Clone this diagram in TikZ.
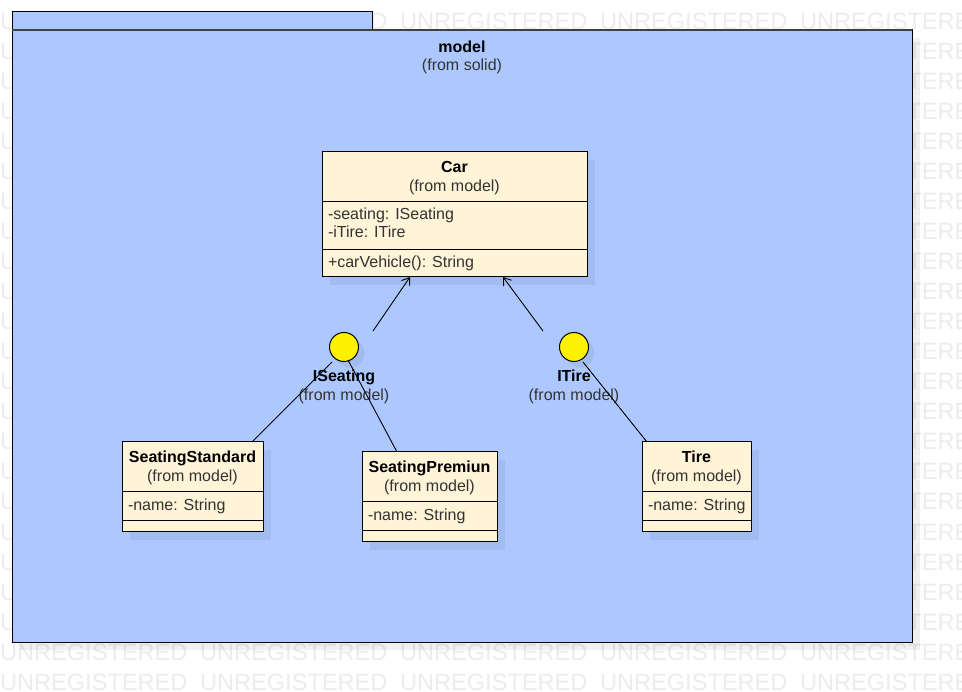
\documentclass[tikz,border=0pt]{standalone}
\usepackage{fontspec}
\setmainfont{Liberation Sans}
\usetikzlibrary{arrows.meta}
\definecolor{pkgblue}{RGB}{173,200,255}
\definecolor{classfill}{RGB}{255,243,216}
\definecolor{wmgray}{RGB}{236,236,236}
\definecolor{txtgray}{RGB}{51,51,51}
\begin{document}
\begin{tikzpicture}[x=1pt,y=-1pt,
  every node/.style={inner sep=0pt, outer sep=0pt},
  txt/.style={font=\fontsize{16}{19}\selectfont, text=txtgray, anchor=base},
  ttl/.style={font=\fontsize{16}{19}\selectfont\bfseries, text=black, anchor=base},
  attr/.style={txt, anchor=base west},
  wm/.style={font=\fontsize{23.6}{28}\selectfont, text=wmgray, anchor=base west},
  classbox/.style={draw=black, line width=1pt, fill=classfill},
  shade/.style={fill=black, fill opacity=0.06, draw=none},
  sep/.style={draw=black, line width=1pt},
  link/.style={draw=black, line width=0.9pt},
  realize/.style={link, -{Straight Barb[length=7pt,width=10pt]}},
  iface/.style={circle, draw=black, line width=1pt, fill=yellow, minimum size=29pt}
]
\useasboundingbox (0,0) rectangle (962,692);
\fill[white] (0,0) rectangle (962,692);
% watermark (only the parts not hidden by the package)
\begin{scope}
\clip (0,0) rectangle (962,692);
\foreach \c in {0,...,4}{
  \node[wm] (wm-top-\c) at (200*\c, 30) {UNREGISTERED};
}
\foreach \r in {1,...,20}{
  \node[wm] (wm-\r-l) at (0, 30+30*\r) {U};
  \node[wm] (wm-\r-r) at (907.5, 30+30*\r) {TERED};
}
\foreach \r in {21,22}{
  \foreach \c in {0,...,4}{
    \node[wm] (wm-\r-\c) at (200*\c, 30+30*\r) {UNREGISTERED};
  }
}
\end{scope}
% package
\fill[shade] (20,38) rectangle (920,650);
\draw[line width=1pt, fill=pkgblue] (12,12) rectangle (372,30);
\draw[line width=1pt, fill=pkgblue] (12,30) rectangle (912,642);
\draw[line width=1.4pt, draw=black!75] (12,30) -- (912,30);
\node[ttl] (pkgname) at (462,53) {model};
\node[txt] (pkgfrom) at (462,71) {(from solid)};

% Car
\fill[shade] (330,160) rectangle (595,285);
\node[classbox, minimum width=265pt, minimum height=125pt] (car) at (454.5,214.5) {};
\draw[sep] (322,202) -- (587,202);
\draw[sep] (322,250) -- (587,250);
\node[ttl] (carname) at (454.5,173) {Car};
\node[txt] (carfrom) at (454.5,192) {(from model)};
\node[attr] (carattr1) at (328,220) {-seating: ISeating};
\node[attr] (carattr2) at (328,238) {-iTire: ITire};
\node[attr] (carop) at (328,268) {+carVehicle(): String};

% SeatingStandard
\fill[shade] (130,450) rectangle (271,540);
\node[classbox, minimum width=141pt, minimum height=90pt] (std) at (192.5,487) {};
\draw[sep] (122,492) -- (263,492);
\draw[sep] (122,521) -- (263,521);
\node[ttl] (stdname) at (192.5,463) {SeatingStandard};
\node[txt] (stdfrom) at (192.5,482) {(from model)};
\node[attr] (stdattr) at (128,511) {-name: String};

% SeatingPremiun
\fill[shade] (370,460) rectangle (505,550);
\node[classbox, minimum width=135pt, minimum height=90pt] (prem) at (429.5,497) {};
\draw[sep] (362,502) -- (497,502);
\draw[sep] (362,531) -- (497,531);
\node[ttl] (premname) at (429.5,473) {SeatingPremiun};
\node[txt] (premfrom) at (429.5,492) {(from model)};
\node[attr] (premattr) at (368,521) {-name: String};

% Tire
\fill[shade] (650,450) rectangle (759,540);
\node[classbox, minimum width=109pt, minimum height=90pt] (tire) at (696.5,487) {};
\draw[sep] (642,492) -- (751,492);
\draw[sep] (642,521) -- (751,521);
\node[ttl] (tirename) at (696.5,463) {Tire};
\node[txt] (tirefrom) at (696.5,482) {(from model)};
\node[attr] (tireattr) at (648,511) {-name: String};

% interfaces
\fill[shade] (350,353) circle (14.5);
\fill[shade] (580,353) circle (14.5);
\node[iface] (iseat) at (344,347) {};
\node[iface] (itire) at (574,347) {};
\node[ttl] (iseatname) at (344,382) {ISeating};
\node[txt] (iseatfrom) at (344,401) {(from model)};
\node[ttl] (itirename) at (574,382) {ITire};
\node[txt] (itirefrom) at (574,401) {(from model)};

% connectors
\coordinate (r1s) at (373,331);
\coordinate (r1e) at (car.south -| 410,0);
\coordinate (r2s) at (543,331);
\coordinate (r2e) at (car.south -| 503,0);
\coordinate (l1s) at (332,362);
\coordinate (l1e) at (std.north -| 252,0);
\coordinate (l2s) at (348,360);
\coordinate (l2e) at (prem.north -| 397,0);
\coordinate (l3s) at (583,362);
\coordinate (l3e) at (tire.north -| 647,0);
\draw[realize] (r1s) -- (r1e);
\draw[realize] (r2s) -- (r2e);
\draw[link] (l1s) -- (l1e);
\draw[link] (l2s) -- (l2e);
\draw[link] (l3s) -- (l3e);
\end{tikzpicture}
\end{document}
